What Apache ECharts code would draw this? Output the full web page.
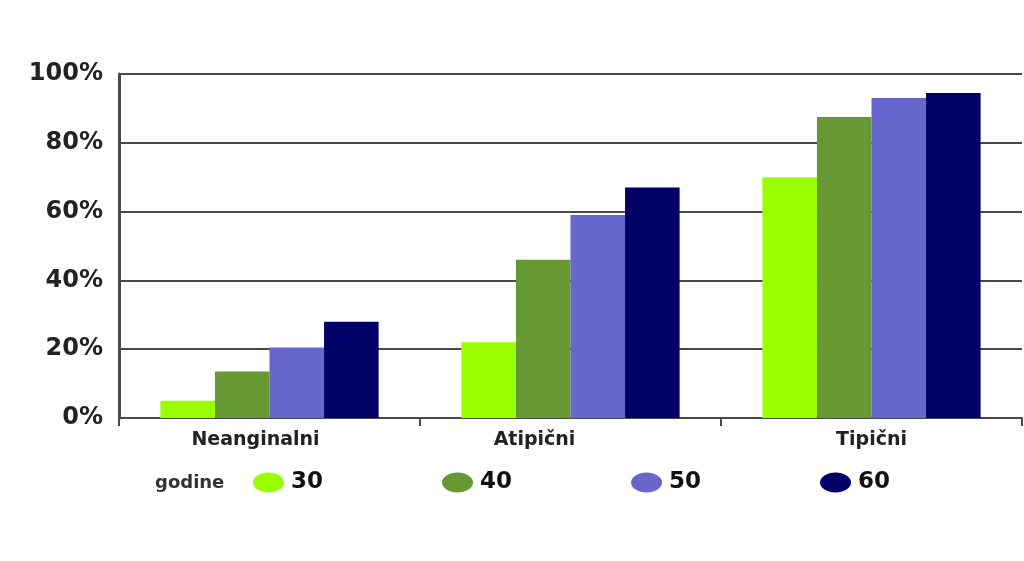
<!DOCTYPE html>
<html>
<head>
<meta charset="utf-8">
<script src="https://cdn.jsdelivr.net/npm/echarts@6/dist/echarts.min.js"></script>
<style>
  html, body { margin: 0; padding: 0; background: #ffffff; }
  #chart { width: 1024px; height: 561px; }
</style>
</head>
<body>
<div id="chart"></div>
<script>
// Share of patients by chest-pain type and age group (godine)
const categories = ['Neanginalni', 'Atipični', 'Tipični'];
const ageGroups = ['30', '40', '50', '60'];
const age30 = [5, 22, 70];
const age40 = [13.5, 46, 87.5];
const age50 = [20.5, 59, 93];
const age60 = [28, 67, 94.5];
const yTicks = [0, 20, 40, 60, 80, 100];

const seriesValues = [age30, age40, age50, age60];
const seriesColors = ['#99ff00', '#669933', '#6666cc', '#000066'];
// horizontal nudge (px, to the left) for each category label
const labelNudge = [14, 36, 0];

const chart = echarts.init(document.getElementById('chart'), null, { renderer: 'canvas' });

const ellipse = 'path://M50,0A50,50,0,1,1,50,100A50,50,0,1,1,50,0Z';

chart.setOption({
  backgroundColor: '#ffffff',
  animation: false,
  grid: { left: 119, right: 2, top: 74, bottom: 143 },
  legend: {
    data: ageGroups,
    left: 253,
    top: 471,
    padding: 0,
    icon: ellipse,
    symbolKeepAspect: false,
    itemWidth: 31,
    itemHeight: 20,
    itemGap: 119,
    textStyle: {
      fontFamily: 'DejaVu Sans',
      fontWeight: 'bold',
      fontSize: 23,
      color: '#111111',
      padding: [0, 0, 0, 2]
    }
  },
  graphic: [{
    type: 'text',
    left: 155,
    top: 474,
    style: {
      text: 'godine',
      fontFamily: 'DejaVu Sans',
      fontWeight: 'bold',
      fontSize: 18,
      fill: '#333333'
    }
  }],
  xAxis: {
    type: 'category',
    data: categories.map((c, i) => ({
      value: c,
      textStyle: { padding: [0, labelNudge[i] * 2, 0, 0] }
    })),
    axisLine: { show: true, lineStyle: { color: '#4a4a4a', width: 2 } },
    axisTick: { show: true, length: 8, lineStyle: { color: '#4a4a4a', width: 2 } },
    axisLabel: {
      margin: 13,
      fontFamily: 'DejaVu Sans',
      fontWeight: 'bold',
      fontSize: 19,
      color: '#222222'
    }
  },
  yAxis: {
    type: 'value',
    min: yTicks[0],
    max: yTicks[yTicks.length - 1],
    interval: yTicks[1] - yTicks[0],
    axisLine: { show: true, lineStyle: { color: '#4a4a4a', width: 3 } },
    axisTick: { show: false },
    splitLine: { show: true, lineStyle: { color: '#4a4a4a', width: 2 } },
    axisLabel: {
      margin: 16,
      formatter: '{value}%',
      fontFamily: 'DejaVu Sans',
      fontWeight: 'bold',
      fontSize: 24,
      color: '#222222'
    }
  },
  series: ageGroups.map((name, i) => ({
    name: name,
    type: 'bar',
    data: seriesValues[i],
    barGap: '0%',
    barCategoryGap: '27.5%',
    itemStyle: { color: seriesColors[i] }
  }))
});
</script>
</body>
</html>
